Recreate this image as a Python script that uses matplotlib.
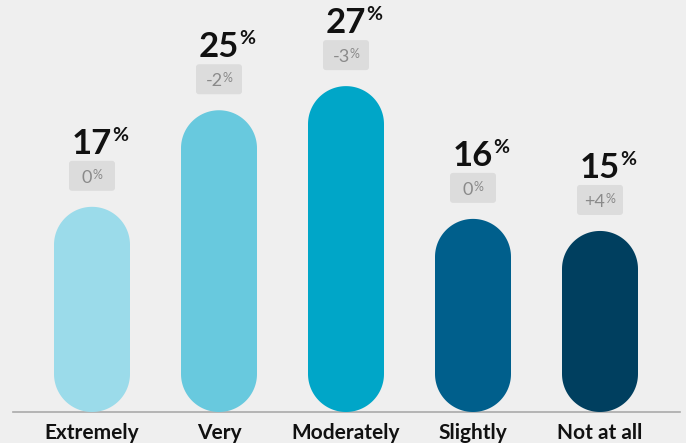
import numpy as np
import matplotlib.pyplot as plt
import matplotlib.transforms as mtransforms
from matplotlib.patches import Polygon, FancyBboxPatch

categories = ["Extremely", "Very", "Moderately", "Slightly", "Not at all"]
shares = [17, 25, 27, 16, 15]
changes = ["0", "-2", "-3", "0", "+4"]
colors = ["#9bdbea", "#68c9de", "#00a6c8", "#005f8c", "#003f5f"]

BG = "#efefef"
FONT = "Lato"

fig = plt.figure(figsize=(6.86, 4.43), dpi=100)
fig.patch.set_facecolor(BG)
ax = fig.add_axes([0, 0, 1, 1])
ax.set_facecolor(BG)
ax.axis("off")

# px per unit: 127 per category, ~12.07 per percentage point
x_px, y_px = 127.0, 12.07
ax.set_xlim(-92 / x_px, (686 - 92) / x_px)
ax.set_ylim(-(443 - 412) / y_px, 412 / y_px)

bar_w = 76 / x_px
rx = bar_w / 2
ry = rx * x_px / y_px


def pill(cx, top, color):
    # capsule from 0 up to top, rounded at both ends
    t1 = np.linspace(0, np.pi, 60)
    t2 = np.linspace(np.pi, 2 * np.pi, 60)
    xs = np.concatenate([cx + rx * np.cos(t1), cx + rx * np.cos(t2)])
    ys = np.concatenate([top - ry + ry * np.sin(t1), ry + ry * np.sin(t2)])
    ax.add_patch(Polygon(np.column_stack([xs, ys]), closed=True,
                         facecolor=color, edgecolor="none", zorder=2))


for i, (cat, val, chg, col) in enumerate(zip(categories, shares, changes, colors)):
    pill(i, val, col)

    # big share label, % as superscript
    num = ax.annotate(str(val), xy=(i, val), xytext=(0, 53), textcoords="offset pixels",
                      ha="center", va="baseline", fontsize=25, fontweight="bold",
                      family=FONT, color="#111111")
    ax.annotate("%", xy=(1, 1), xycoords=num, xytext=(0, 1), textcoords="offset pixels",
                ha="left", va="top", fontsize=14, fontweight="bold",
                family=FONT, color="#111111")

    # grey change box
    anchor = mtransforms.ScaledTranslation(i, val, ax.transData)
    box = FancyBboxPatch((-23, 16), 46, 30, boxstyle="round,pad=0,rounding_size=3",
                         facecolor="#dcdcdc", edgecolor="none",
                         transform=mtransforms.Affine2D() + anchor, zorder=3)
    ax.add_artist(box)
    small = ax.annotate(chg, xy=(i, val), xytext=(-5, 24), textcoords="offset pixels",
                        ha="center", va="baseline", fontsize=13,
                        family=FONT, color="#8a8a8a", zorder=4)
    ax.annotate("%", xy=(1, 1), xycoords=small, xytext=(0, 1), textcoords="offset pixels",
                ha="left", va="top", fontsize=9, family=FONT, color="#8a8a8a", zorder=4)

    ax.annotate(cat, xy=(i, 0), xytext=(0, -27), textcoords="offset pixels",
                ha="center", va="baseline", fontsize=15, fontweight="bold",
                family=FONT, color="#111111")

# baseline
ax.plot([-79 / x_px, (680 - 92) / x_px], [0, 0], color="#aaaaaa", lw=1.2, zorder=1)

fig.savefig("out.png", dpi=100, facecolor=BG)
